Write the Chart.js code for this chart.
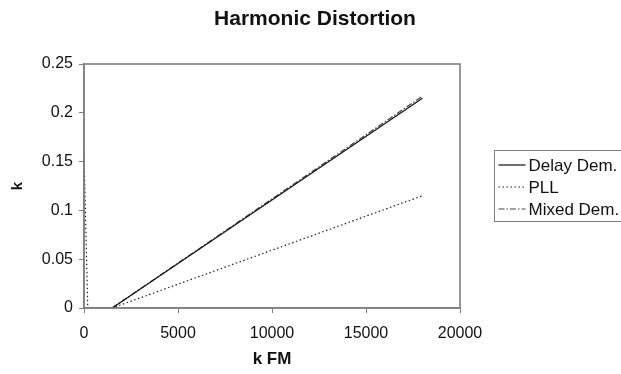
<!DOCTYPE html>
<html>
<head>
<meta charset="utf-8">
<title>Harmonic Distortion</title>
<script src="https://cdn.jsdelivr.net/npm/chart.js@4/dist/chart.umd.min.js"></script>
<style>
  html, body {
    margin: 0;
    padding: 0;
    background: #ffffff;
  }
  #wrap {
    width: 621px;
    height: 374px;
  }
</style>
</head>
<body>
<div id="wrap">
  <canvas id="distortionChart" width="621" height="374"></canvas>
</div>
<script>
/* =====================================
   Data
===================================== */
const seriesNames = ["Delay Dem.", "PLL", "Mixed Dem."];

const delayX = [1500, 18000];
const delayK = [0, 0.215];

const pllX = [0, 200, 1500, 18000];
const pllK = [0.16, 0, 0, 0.115];

const mixedX = [1500, 18000];
const mixedK = [0, 0.217];

const xTickLabels = ["0", "5000", "10000", "15000", "20000"];
const yTickLabels = ["0", "0.05", "0.1", "0.15", "0.2", "0.25"];

const chartTitle = "Harmonic Distortion";

const FONT = "'Liberation Sans', Arial, sans-serif";

function toPoints(xs, ys) {
  return xs.map((x, i) => ({ x: x, y: ys[i] }));
}

/* =====================================
   Page title (centred on whole canvas)
===================================== */
const pageTitlePlugin = {
  id: "pageTitle",
  afterDraw(chart) {
    const ctx = chart.ctx;
    ctx.save();
    ctx.font = "bold 21px " + FONT;
    ctx.fillStyle = "#111";
    ctx.textAlign = "center";
    ctx.textBaseline = "middle";
    ctx.fillText(chartTitle, 315, 19);
    ctx.restore();
  }
};

/* =====================================
   Plot frame + boxed legend
===================================== */
const framePlugin = {
  id: "frame",
  afterDatasetsDraw(chart) {
    const { ctx, chartArea } = chart;
    ctx.save();
    ctx.strokeStyle = "#7f7f7f";
    ctx.lineWidth = 1.6;
    ctx.strokeRect(
      chartArea.left,
      chartArea.top,
      chartArea.right - chartArea.left,
      chartArea.bottom - chartArea.top
    );
    ctx.restore();
  }
};

const boxLegendPlugin = {
  id: "boxLegend",
  afterDraw(chart) {
    const ctx = chart.ctx;
    const left = 494.5;
    const top = 150.5;
    const rowH = 22;

    ctx.save();
    ctx.strokeStyle = "#7f7f7f";
    ctx.lineWidth = 1;
    ctx.strokeRect(left, top, 140, 71);

    ctx.font = "17px " + FONT;
    ctx.fillStyle = "#111";
    ctx.textBaseline = "middle";

    chart.data.datasets.forEach((ds, i) => {
      const y = top + 14.5 + i * rowH;
      ctx.beginPath();
      ctx.strokeStyle = ds.borderColor;
      ctx.lineWidth = ds.borderWidth;
      ctx.setLineDash(ds.borderDash || []);
      ctx.moveTo(left + 4, y);
      ctx.lineTo(left + 31, y);
      ctx.stroke();
      ctx.setLineDash([]);
      ctx.fillText(ds.label, left + 34, y + 1);
    });
    ctx.restore();
  }
};

/* =====================================
   Chart
===================================== */
document.addEventListener("DOMContentLoaded", () => {

  const canvas = document.getElementById("distortionChart");

  new Chart(canvas, {

    type: "scatter",

    data: {
      datasets: [
        {
          label: seriesNames[0],
          data: toPoints(delayX, delayK),
          showLine: true,
          borderColor: "#111111",
          borderWidth: 1.2,
          pointRadius: 0
        },
        {
          label: seriesNames[1],
          data: toPoints(pllX, pllK),
          showLine: true,
          borderColor: "#222222",
          borderWidth: 1.2,
          borderDash: [1.5, 2.5],
          pointRadius: 0
        },
        {
          label: seriesNames[2],
          data: toPoints(mixedX, mixedK),
          showLine: true,
          borderColor: "#444444",
          borderWidth: 1.2,
          borderDash: [6, 2, 1.5, 2],
          pointRadius: 0
        }
      ]
    },

    options: {
      responsive: false,
      animation: false,
      layout: {
        padding: { left: 0, right: 161, top: 64, bottom: 0 }
      },
      plugins: {
        legend: { display: false },
        tooltip: { enabled: false },
        title: { display: false }
      },
      scales: {
        x: {
          type: "linear",
          min: 0,
          max: 20000,
          afterBuildTicks(axis) {
            axis.ticks = xTickLabels.map(v => ({ value: Number(v) }));
          },
          afterFit(axis) {
            axis.height = 66;
          },
          ticks: {
            color: "#111",
            font: { size: 16, family: FONT },
            padding: 11,
            maxRotation: 0,
            callback: (v, i) => xTickLabels[i]
          },
          grid: {
            drawOnChartArea: false,
            drawTicks: true,
            tickLength: 5,
            color: "#7f7f7f"
          },
          border: { display: true, color: "#7f7f7f", width: 1.6 },
          title: {
            display: true,
            text: "k FM",
            color: "#111",
            font: { size: 17, weight: "bold", family: FONT },
            padding: { top: 4, bottom: 4 }
          }
        },
        y: {
          type: "linear",
          min: 0,
          max: 0.25,
          afterBuildTicks(axis) {
            axis.ticks = yTickLabels.map(v => ({ value: Number(v) }));
          },
          afterFit(axis) {
            axis.width = 84;
          },
          ticks: {
            color: "#111",
            font: { size: 16, family: FONT },
            padding: 6,
            callback: (v, i) => yTickLabels[i]
          },
          grid: {
            drawOnChartArea: false,
            drawTicks: true,
            tickLength: 5,
            color: "#7f7f7f"
          },
          border: { display: true, color: "#7f7f7f", width: 1.6 },
          title: {
            display: true,
            text: "k",
            color: "#111",
            font: { size: 15, weight: "bold", family: FONT },
            padding: { top: 9, bottom: 0 }
          }
        }
      }
    },

    plugins: [framePlugin, boxLegendPlugin, pageTitlePlugin]
  });
});
</script>
</body>
</html>
